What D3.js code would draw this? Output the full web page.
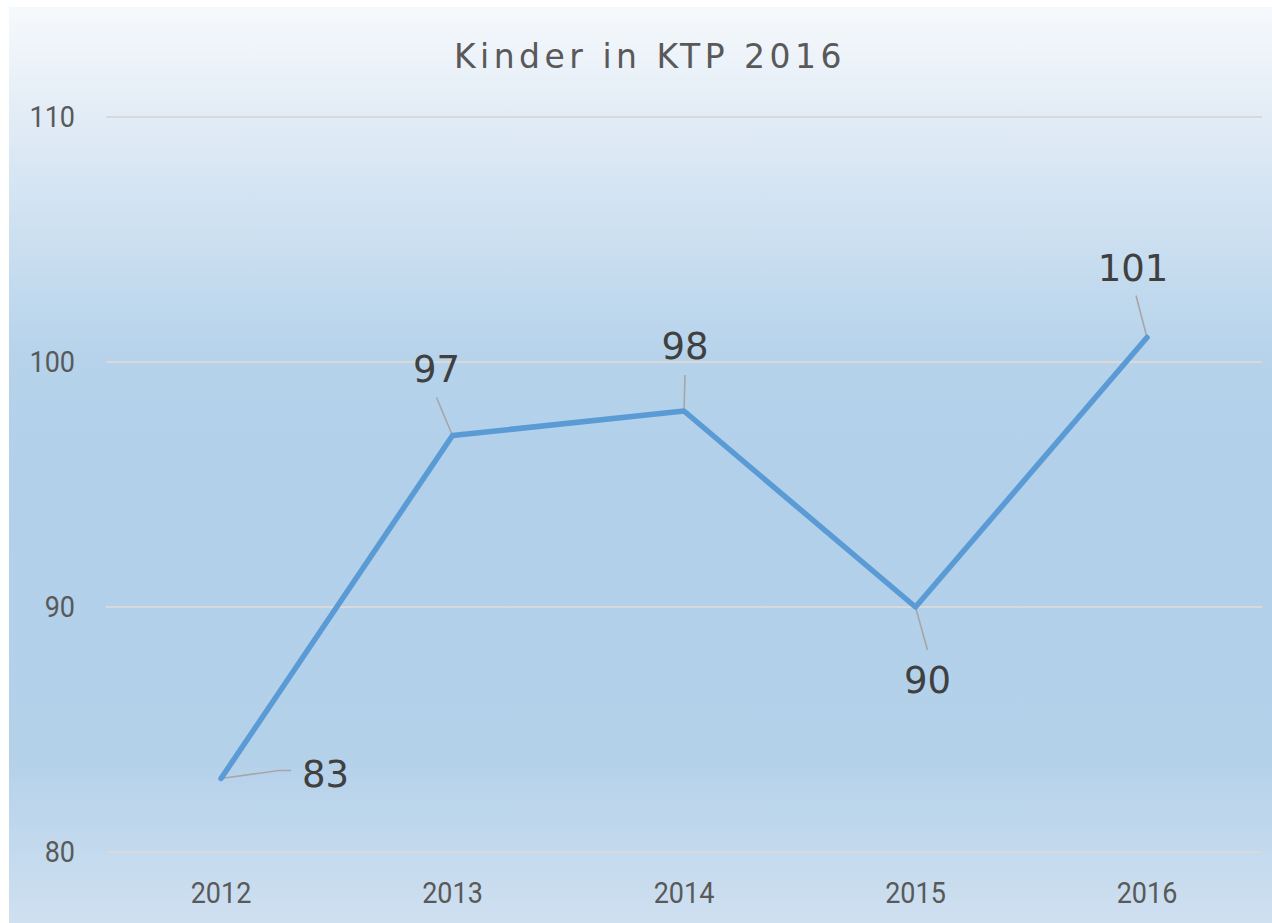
<!DOCTYPE html>
<html>
<head>
<meta charset="utf-8">
<script src="https://cdn.jsdelivr.net/npm/d3@7"></script>
<style>
  html, body { margin: 0; padding: 0; background: #fff; }
  svg { display: block; }
</style>
</head>
<body>
<div id="chart"></div>
<script>
const title = 'Kinder in KTP 2016';
const years = ['2012', '2013', '2014', '2015', '2016'];
const children = [83, 97, 98, 90, 101];
const yTicks = [80, 90, 100, 110];

// label placement (leader end offset, label offset) per point, in px
const labelLayout = [
  { lx: 70, ly: -8, tx: 81, ty: -5, anchor: 'start' },
  { lx: -16, ly: -38, tx: -16, ty: -67, anchor: 'middle' },
  { lx: 1, ly: -36, tx: 1, ty: -65, anchor: 'middle' },
  { lx: 12, ly: 43, tx: 12, ty: 73, anchor: 'middle' },
  { lx: -11, ly: -42, tx: -14, ty: -70, anchor: 'middle' },
];

const width = 1272, height = 923;
const svg = d3.select('#chart').append('svg')
  .attr('width', width).attr('height', height);

const defs = svg.append('defs');
const grad = defs.append('linearGradient').attr('id', 'bg')
  .attr('x1', 0).attr('y1', 0).attr('x2', 0).attr('y2', 1);
[[0, '#f6f9fc'], [0.12, '#e2ecf6'], [0.38, '#b6d3eb'], [0.5, '#b2d0ea'], [0.82, '#b4d1ea'], [1, '#cfe0f0']]
  .forEach(([o, c]) => grad.append('stop').attr('offset', o).attr('stop-color', c));

svg.append('rect').attr('x', 9).attr('y', 7)
  .attr('width', width - 9).attr('height', height - 7)
  .attr('fill', 'url(#bg)');

const x = d3.scalePoint().domain(years).range([221, 1147]);
const y = d3.scaleLinear().domain([80, 110]).range([852, 117]);
const gridLeft = 106, gridRight = 1262;

svg.append('text')
  .attr('x', 650).attr('y', 68)
  .attr('text-anchor', 'middle')
  .attr('font-family', 'DejaVu Sans, sans-serif')
  .attr('font-size', 33).attr('letter-spacing', 4.5)
  .attr('fill', '#595959')
  .text(title);

// gridlines
svg.append('g').selectAll('line').data(yTicks).join('line')
  .attr('x1', gridLeft).attr('x2', gridRight)
  .attr('y1', d => y(d)).attr('y2', d => y(d))
  .attr('stroke', '#d9d9d9').attr('stroke-width', 2);

// y tick labels
svg.append('g').selectAll('text').data(yTicks).join('text')
  .attr('x', 75).attr('y', d => y(d) + 10)
  .attr('text-anchor', 'end')
  .attr('font-family', 'Roboto, sans-serif').attr('font-size', 30)
  .attr('fill', '#595959')
  .attr('transform', `translate(${75 * 0.1},0) scale(0.9,1)`)
  .text(d => d);

// x tick labels
svg.append('g').selectAll('text').data(years).join('text')
  .attr('x', d => x(d) / 0.9).attr('y', 903)
  .attr('text-anchor', 'middle')
  .attr('font-family', 'Roboto, sans-serif').attr('font-size', 30)
  .attr('fill', '#595959')
  .attr('transform', 'scale(0.9,1)')
  .text(d => d);

const pts = years.map((yr, i) => ({ yr, v: children[i], px: x(yr), py: y(children[i]), lay: labelLayout[i] }));

// leader lines
svg.append('g').selectAll('polyline').data(pts).join('polyline')
  .attr('points', d => {
    if (d.lay.anchor === 'start') {
      return `${d.px},${d.py} ${d.px + d.lay.lx - 12},${d.py + d.lay.ly} ${d.px + d.lay.lx},${d.py + d.lay.ly}`;
    }
    return `${d.px},${d.py} ${d.px + d.lay.lx},${d.py + d.lay.ly}`;
  })
  .attr('fill', 'none').attr('stroke', '#a6a6a6').attr('stroke-width', 1.6);

// series line
const line = d3.line().x(d => d.px).y(d => d.py);
svg.append('path').datum(pts)
  .attr('d', line)
  .attr('fill', 'none').attr('stroke', '#5b9bd5')
  .attr('stroke-width', 5.5).attr('stroke-linejoin', 'round').attr('stroke-linecap', 'round');

// data labels
svg.append('g').selectAll('text').data(pts).join('text')
  .attr('x', d => d.px + d.lay.tx).attr('y', d => d.py + d.lay.ty + 13)
  .attr('text-anchor', d => d.lay.anchor)
  .attr('font-family', 'DejaVu Sans, sans-serif').attr('font-size', 37)
  .attr('fill', '#404040')
  .text(d => d.v);
</script>
</body>
</html>
